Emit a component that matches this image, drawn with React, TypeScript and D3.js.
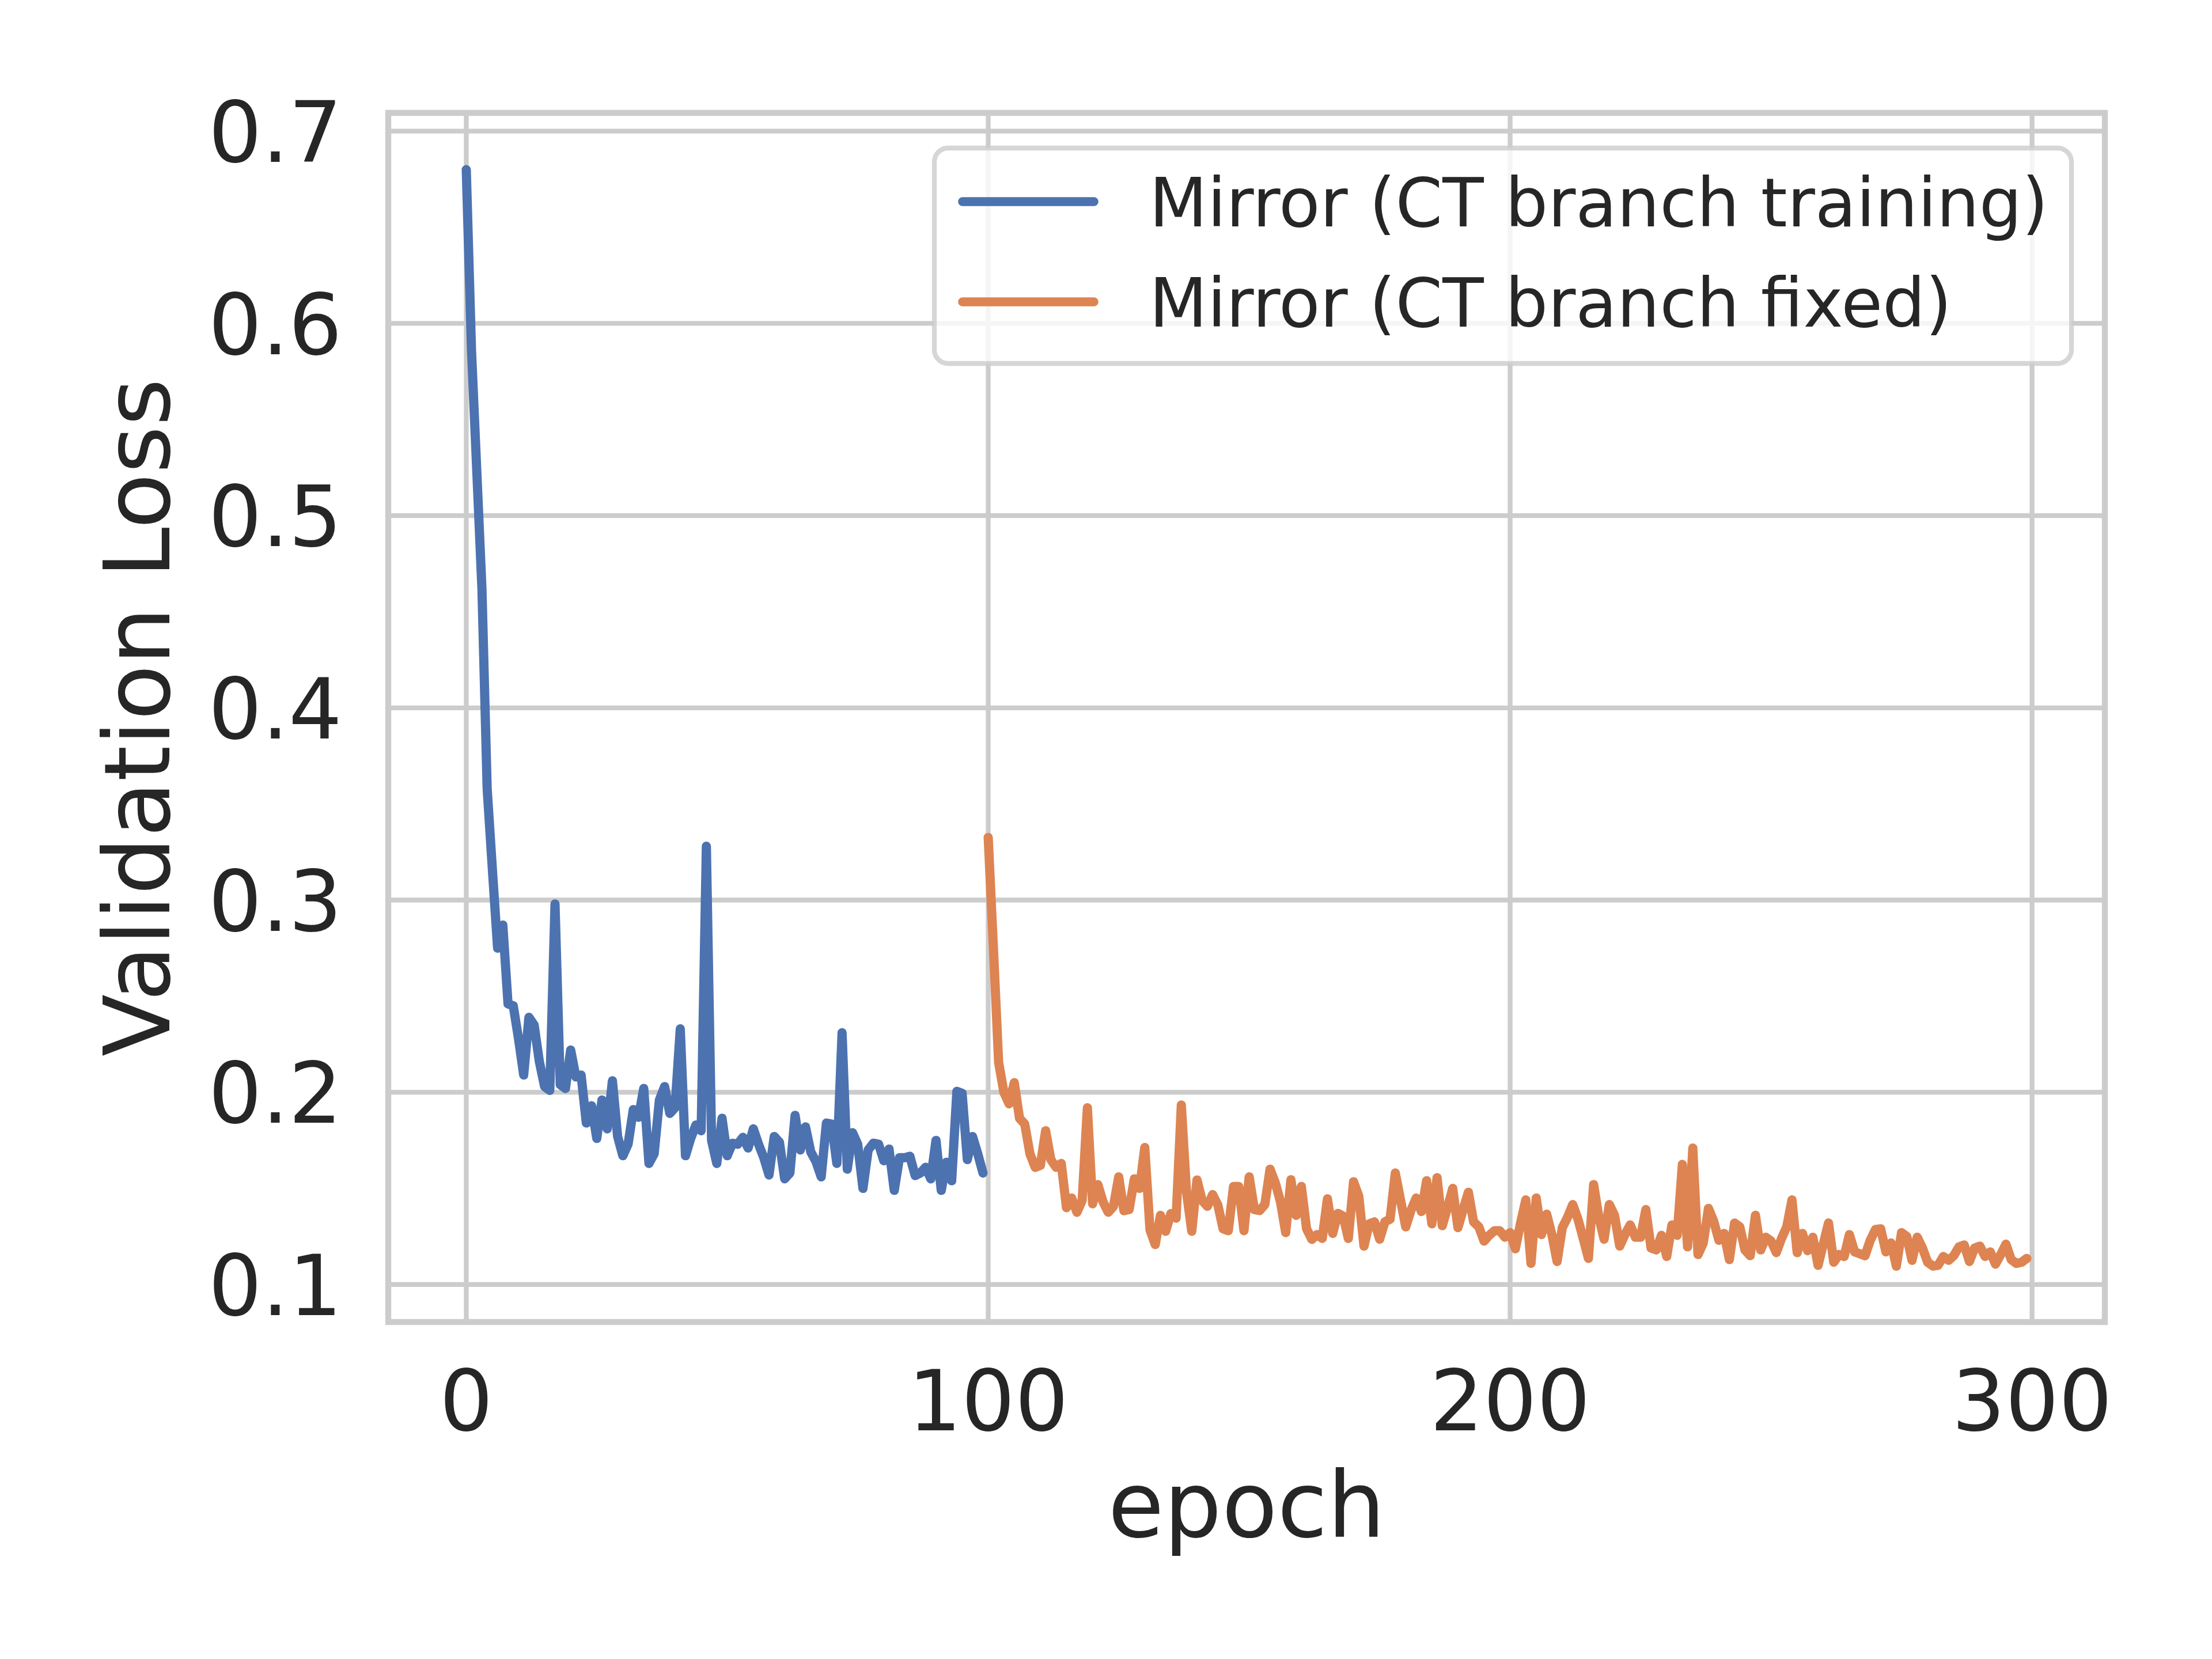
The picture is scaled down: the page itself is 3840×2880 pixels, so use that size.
import React from 'react';
import * as d3 from 'd3';

const xTicks = [0, 100, 200, 300];
const xTickLabels = ['0', '100', '200', '300'];
const yTicks = [0.1, 0.2, 0.3, 0.4, 0.5, 0.6, 0.7];
const yTickLabels = ['0.1', '0.2', '0.3', '0.4', '0.5', '0.6', '0.7'];
const seriesNames = ['Mirror (CT branch training)', 'Mirror (CT branch fixed)'];
const seriesColors = ['#4c72b0', '#dd8452'];
const xLabel = 'epoch';
const yLabel = 'Validation Loss';

const trainingStart = 0;
const trainingLoss = [
  0.680, 0.586, 0.524, 0.462, 0.358, 0.316, 0.275, 0.287, 0.246, 0.245,
  0.228, 0.209, 0.239, 0.235, 0.216, 0.203, 0.201, 0.298, 0.204, 0.202,
  0.222, 0.208, 0.209, 0.184, 0.193, 0.176, 0.196, 0.181, 0.206, 0.177,
  0.167, 0.173, 0.191, 0.187, 0.202, 0.163, 0.168, 0.196, 0.203, 0.189,
  0.192, 0.233, 0.167, 0.176, 0.183, 0.180, 0.328, 0.175, 0.163, 0.1865,
  0.167, 0.1735, 0.173, 0.1766, 0.171, 0.181, 0.173, 0.166, 0.157, 0.177,
  0.174, 0.155, 0.158, 0.188, 0.170, 0.182, 0.169, 0.164, 0.156, 0.184,
  0.1835, 0.163, 0.231, 0.160, 0.179, 0.173, 0.150, 0.170, 0.1735, 0.173,
  0.1644, 0.1705, 0.149, 0.166, 0.166, 0.1667, 0.1567, 0.158, 0.161, 0.155,
  0.175, 0.149, 0.1636, 0.154, 0.2005, 0.1995, 0.165, 0.177, 0.168, 0.158,
];

const fixedStart = 100;
const fixedLoss = [
  0.3326, 0.275, 0.2155, 0.200, 0.194, 0.205, 0.1865, 0.1835, 0.168, 0.161,
  0.162, 0.180, 0.165, 0.161, 0.163, 0.140, 0.145, 0.1376, 0.1437, 0.192,
  0.142, 0.152, 0.143, 0.1376, 0.1407, 0.156, 0.1384, 0.139, 0.155, 0.150,
  0.1713, 0.1284, 0.1208, 0.136, 0.1277, 0.1369, 0.1345, 0.1934, 0.148, 0.1277,
  0.1544, 0.1437, 0.1407, 0.1468, 0.1414, 0.129, 0.128, 0.151, 0.151, 0.128,
  0.156, 0.139, 0.1385, 0.1416, 0.160, 0.153, 0.143, 0.127, 0.1545, 0.136,
  0.151, 0.129, 0.1235, 0.126, 0.124, 0.1446, 0.1266, 0.137, 0.1356, 0.124,
  0.1535, 0.146, 0.120, 0.1316, 0.1326, 0.1236, 0.1326, 0.134, 0.158, 0.144,
  0.130, 0.1386, 0.145, 0.138, 0.154, 0.1316, 0.1556, 0.1306, 0.140, 0.150,
  0.1296, 0.139, 0.148, 0.1326, 0.130, 0.1226, 0.1256, 0.128, 0.128, 0.1246,
  0.127, 0.1186, 0.132, 0.144, 0.111, 0.145, 0.126, 0.1366, 0.126, 0.112,
  0.1296, 0.135, 0.1416, 0.134, 0.124, 0.1136, 0.152, 0.135, 0.1236, 0.1416,
  0.136, 0.120, 0.126, 0.131, 0.1246, 0.1246, 0.139, 0.119, 0.118, 0.1256,
  0.1146, 0.131, 0.1256, 0.1625, 0.1196, 0.171, 0.1156, 0.1216, 0.1396, 0.133,
  0.123, 0.1266, 0.113, 0.132, 0.130, 0.118, 0.115, 0.136, 0.118, 0.1246,
  0.1226, 0.1166, 0.124, 0.130, 0.144, 0.1166, 0.1266, 0.1176, 0.1246, 0.110,
  0.121, 0.132, 0.1116, 0.1156, 0.1146, 0.126, 0.117, 0.116, 0.115, 0.123,
  0.1286, 0.129, 0.117, 0.1216, 0.1096, 0.127, 0.125, 0.1126, 0.1246, 0.119,
  0.1116, 0.1096, 0.110, 0.1146, 0.1126, 0.115, 0.1196, 0.1206, 0.112, 0.119,
  0.120, 0.1146, 0.117, 0.1106, 0.1156, 0.121, 0.113, 0.111, 0.1116, 0.1136,
];

const FONT = '"DejaVu Sans", Verdana, sans-serif';
const TEXT = '#262626';
const GRID = '#cccccc';

export default function App() {
  const W = 3840;
  const H = 2880;
  const left = 674;
  const right = 3654;
  const top = 196;
  const bottom = 2295;

  const x = d3.scaleLinear().domain([-14.95, 313.95]).range([left, right]);
  const y = d3.scaleLinear().domain([0.0805, 0.7095]).range([bottom, top]);

  const mkLine = (start: number) =>
    d3
      .line<number>()
      .x((_, i) => x(start + i))
      .y((d) => y(d));

  const series = [
    { data: trainingLoss, start: trainingStart },
    { data: fixedLoss, start: fixedStart },
  ];

  const tickFs = 146;
  const labelFs = 158;
  const legendFs = 117;

  return (
    <svg
      width={W}
      height={H}
      viewBox={`0 0 ${W} ${H}`}
      style={{ position: 'absolute', left: 0, top: 0, display: 'block', background: '#fff' }}
      xmlns="http://www.w3.org/2000/svg"
    >
      <defs>
        <clipPath id="plotClip">
          <rect x={left} y={top} width={right - left} height={bottom - top} />
        </clipPath>
      </defs>
      <rect x={0} y={0} width={W} height={H} fill="#ffffff" />

      {/* grid */}
      <g stroke={GRID} strokeWidth={8.3} strokeLinecap="butt">
        {xTicks.map((t) => (
          <line key={'gx' + t} x1={x(t)} x2={x(t)} y1={top} y2={bottom} />
        ))}
        {yTicks.map((t) => (
          <line key={'gy' + t} x1={left} x2={right} y1={y(t)} y2={y(t)} />
        ))}
      </g>

      {/* series */}
      <g clipPath="url(#plotClip)">
        {series.map((s, k) => (
          <path
            key={'s' + k}
            d={mkLine(s.start)(s.data) || ''}
            fill="none"
            stroke={seriesColors[k]}
            strokeWidth={16}
            strokeLinejoin="round"
            strokeLinecap="round"
          />
        ))}
      </g>

      {/* spines */}
      <rect
        x={left}
        y={top}
        width={right - left}
        height={bottom - top}
        fill="none"
        stroke={GRID}
        strokeWidth={10.4}
      />

      {/* x tick labels */}
      <g fontFamily={FONT} fontSize={tickFs} fill={TEXT} textAnchor="middle">
        {xTicks.map((t, i) => (
          <text key={'xt' + t} x={x(t)} y={2483}>
            {xTickLabels[i]}
          </text>
        ))}
      </g>

      {/* y tick labels */}
      <g fontFamily={FONT} fontSize={tickFs} fill={TEXT} textAnchor="end">
        {yTicks.map((t, i) => (
          <text key={'yt' + t} x={594} y={y(t) + 0.3645 * tickFs}>
            {yTickLabels[i]}
          </text>
        ))}
      </g>

      {/* axis labels */}
      <text
        x={(left + right) / 2}
        y={2668}
        fontFamily={FONT}
        fontSize={labelFs}
        fill={TEXT}
        textAnchor="middle"
      >
        {xLabel}
      </text>
      <text
        transform={`translate(294, ${(top + bottom) / 2}) rotate(-90)`}
        fontFamily={FONT}
        fontSize={labelFs}
        fill={TEXT}
        textAnchor="middle"
      >
        {yLabel}
      </text>

      {/* legend */}
      <g>
        <rect
          x={1622}
          y={257}
          width={1974}
          height={374}
          rx={24}
          ry={24}
          fill="#ffffff"
          fillOpacity={0.8}
          stroke={GRID}
          strokeOpacity={0.8}
          strokeWidth={8.3}
        />
        {seriesNames.map((name, k) => {
          const cy = 350 + k * 174;
          return (
            <g key={'lg' + k}>
              <line
                x1={1671}
                x2={1899}
                y1={cy}
                y2={cy}
                stroke={seriesColors[k]}
                strokeWidth={15.6}
                strokeLinecap="round"
              />
              <text
                x={1995}
                y={cy + 0.3645 * legendFs}
                fontFamily={FONT}
                fontSize={legendFs}
                fill={TEXT}
              >
                {name}
              </text>
            </g>
          );
        })}
      </g>
    </svg>
  );
}
